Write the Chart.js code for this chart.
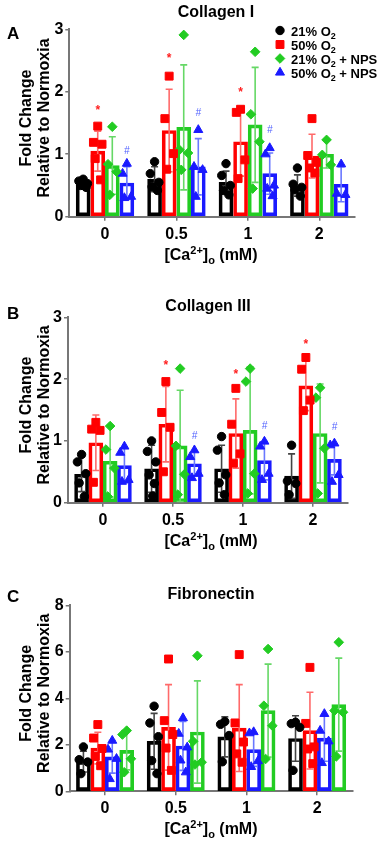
<!DOCTYPE html>
<html><head><meta charset="utf-8">
<script src="https://cdn.jsdelivr.net/npm/chart.js@4.4.0/dist/chart.umd.min.js"></script>
<style>
html,body{margin:0;padding:0;background:#fff;width:383px;height:841px;overflow:hidden}
canvas{position:absolute;left:0;display:block}
</style></head><body>
<canvas id="cA" width="383" height="270" style="top:0px"></canvas>
<canvas id="cB" width="383" height="282" style="top:278px"></canvas>
<canvas id="cC" width="383" height="279" style="top:562px"></canvas>
<script>
// ---------- data ----------
const categories = ['0', '0.5', '1', '2'];
const seriesLabels = ['21% O2', '50% O2', '21% O2 + NPS', '50% O2 + NPS'];

// Panel A: Collagen I
const colI_21_mean = [0.53, 0.60, 0.55, 0.50];
const colI_50_mean = [1.05, 1.38, 1.20, 0.97];
const colI_21nps_mean = [0.82, 1.43, 1.47, 1.00];
const colI_50nps_mean = [0.54, 0.80, 0.69, 0.52];
const colI_21_sd = [0.06, 0.20, 0.18, 0.17];
const colI_50_sd = [0.32, 0.66, 0.55, 0.35];
const colI_21nps_sd = [0.46, 1.00, 0.92, 0.22];
const colI_50nps_sd = [0.26, 0.45, 0.33, 0.28];
const colI_21_pts = [[0.60,0.57,0.53,0.50,0.47],[0.88,0.69,0.55,0.48,0.42],[0.85,0.66,0.50,0.42,0.35],[0.78,0.52,0.47,0.43,0.33]];
const colI_50_pts = [[1.45,1.19,1.16,0.93,0.59],[2.25,1.57,1.01,0.76],[1.72,1.67,0.91,0.61],[1.57,0.98,0.87,0.78,0.70]];
const colI_21nps_pts = [[1.44,0.84,0.72,0.35],[2.91,1.07,1.02,0.75],[2.64,1.64,1.20,0.45],[1.23,0.99,0.83]];
const colI_50nps_pts = [[0.85,0.69,0.32,0.30],[1.39,0.80,0.75,0.32],[1.10,1.00,0.50,0.45,0.33],[0.84,0.37,0.35]];
const colI_marks = [
  {series:1, cat:0, y:1.75, t:'*'}, {series:1, cat:1, y:2.57, t:'*'}, {series:1, cat:2, y:2.04, t:'*'},
  {series:3, cat:0, y:1.05, t:'#'}, {series:3, cat:1, y:1.65, t:'#'}, {series:3, cat:2, y:1.39, t:'#'}
];

// Panel B: Collagen III
const colIII_21_mean = [0.46, 0.55, 0.55, 0.43];
const colIII_50_mean = [0.97, 1.27, 1.12, 1.89];
const colIII_21nps_mean = [0.67, 0.92, 1.17, 1.12];
const colIII_50nps_mean = [0.60, 0.63, 0.68, 0.70];
const colIII_21_sd = [0.28, 0.38, 0.38, 0.36];
const colIII_50_sd = [0.45, 0.61, 0.56, 0.40];
const colIII_21nps_sd = [0.58, 0.90, 1.03, 0.80];
const colIII_50nps_sd = [0.28, 0.20, 0.31, 0.25];
const colIII_21_pts = [[0.78,0.66,0.47,0.32,0.10],[1.00,0.83,0.66,0.45,0.31,0.11],[1.07,0.85,0.45,0.32,0.13],[0.93,0.35,0.31,0.13]];
const colIII_50_pts = [[1.30,1.19,1.17,0.33],[1.96,1.46,1.22,0.50],[1.85,1.27,0.79,0.64],[2.35,2.16,1.66,1.49]];
const colIII_21nps_pts = [[1.24,0.86,0.56,0.10],[2.17,0.92,0.46,0.13],[2.17,1.96,0.47,0.15],[1.86,1.70,0.88,0.15]];
const colIII_50nps_pts = [[0.91,0.81,0.37,0.34],[0.85,0.74,0.47,0.40],[0.99,0.91,0.47,0.37],[0.96,0.93,0.45,0.34]];
const colIII_marks = [
  {series:1, cat:1, y:2.26, t:'*'}, {series:1, cat:2, y:2.12, t:'*'}, {series:1, cat:3, y:2.61, t:'*'},
  {series:3, cat:1, y:1.08, t:'#'}, {series:3, cat:2, y:1.23, t:'#'}, {series:3, cat:3, y:1.22, t:'#'}
];

// Panel C: Fibronectin (order: 21%, 50%, 50%+NPS, 21%+NPS)
const fib_21_mean = [1.28, 2.15, 2.34, 2.27];
const fib_50_mean = [1.86, 2.75, 2.72, 2.61];
const fib_50nps_mean = [1.48, 1.95, 1.79, 2.29];
const fib_21nps_mean = [1.76, 2.55, 3.47, 3.73];
const fib_21_sd = [0.45, 1.20, 0.86, 0.98];
const fib_50_sd = [0.68, 1.84, 1.87, 1.65];
const fib_50nps_sd = [0.70, 1.05, 0.72, 1.00];
const fib_21nps_sd = [0.84, 2.20, 2.00, 2.00];
const fib_21_pts = [[1.91,1.36,1.26,0.76],[3.66,2.94,2.35,1.32,0.76],[3.00,2.88,2.40,1.27],[2.97,2.91,2.75,0.90]];
const fib_50_pts = [[2.87,2.29,1.84,1.50,1.10],[5.69,3.04,2.44,1.86,0.90],[5.88,2.94,2.12,1.61,1.25],[5.33,2.92,1.91,1.82,1.19]];
const fib_50nps_pts = [[2.18,1.80,1.40,0.53],[3.15,2.48,1.89,1.33,0.82],[2.55,2.50,1.30,1.05],[3.33,2.61,2.15,1.22]];
const fib_21nps_pts = [[2.61,2.44,1.40,0.82],[5.83,2.15,1.25,1.15],[6.12,3.68,2.82,1.39],[6.41,3.47,3.40,1.50]];
const fib_marks = [];

// ---------- styles ----------
const FONT = '"Liberation Sans", Arial, Helvetica, sans-serif';
const styles = {
  o21:    {color:'#000000', err:'#444444', shape:'circle',   r:4.2},
  o50:    {color:'#ff0000', err:'#ff6a6a', shape:'rect',     r:5.6},
  o21nps: {color:'#22cc22', err:'#66d866', shape:'rectRot',  r:4.8},
  o50nps: {color:'#1a1aff', err:'#6a78ff', shape:'triangle', r:5.2}
};
const seriesOffset = [-0.306, -0.102, 0.102, 0.306];
const jitter = [0, -0.06, 0.06, -0.035, 0.04, 0.015];

const panels = [
  {id:'cA', title:'Collagen I', letter:'A', H:270, yMax:3, yStep:1,
   area:{top:29.3, bottom:216.7, left:69.3, right:355}, titleX:216, titleY:17, letterY:39, legend:true,
   marks: colI_marks,
   series:[
     {key:'o21', mean:colI_21_mean, sd:colI_21_sd, pts:colI_21_pts},
     {key:'o50', mean:colI_50_mean, sd:colI_50_sd, pts:colI_50_pts},
     {key:'o21nps', mean:colI_21nps_mean, sd:colI_21nps_sd, pts:colI_21nps_pts},
     {key:'o50nps', mean:colI_50nps_mean, sd:colI_50nps_sd, pts:colI_50nps_pts}]},
  {id:'cB', title:'Collagen III', letter:'B', H:282, yMax:3, yStep:1,
   area:{top:39.3, bottom:224.7, left:68, right:348}, titleX:208, titleY:33, letterY:41, legend:false,
   marks: colIII_marks,
   series:[
     {key:'o21', mean:colIII_21_mean, sd:colIII_21_sd, pts:colIII_21_pts},
     {key:'o50', mean:colIII_50_mean, sd:colIII_50_sd, pts:colIII_50_pts},
     {key:'o21nps', mean:colIII_21nps_mean, sd:colIII_21nps_sd, pts:colIII_21nps_pts},
     {key:'o50nps', mean:colIII_50nps_mean, sd:colIII_50nps_sd, pts:colIII_50nps_pts}]},
  {id:'cC', title:'Fibronectin', letter:'C', H:279, yMax:8, yStep:2,
   area:{top:43.3, bottom:229.3, left:69.7, right:352.5}, titleX:211, titleY:37, letterY:40, legend:false,
   marks: fib_marks,
   series:[
     {key:'o21', mean:fib_21_mean, sd:fib_21_sd, pts:fib_21_pts},
     {key:'o50', mean:fib_50_mean, sd:fib_50_sd, pts:fib_50_pts},
     {key:'o50nps', mean:fib_50nps_mean, sd:fib_50nps_sd, pts:fib_50nps_pts},
     {key:'o21nps', mean:fib_21nps_mean, sd:fib_21nps_sd, pts:fib_21nps_pts}]}
];

// ---------- helpers ----------
function drawRuns(ctx, runs, x, y, align) {
  let total = 0;
  runs.forEach(r => { ctx.font = 'bold ' + r.size + 'px ' + FONT; r.w = ctx.measureText(r.t).width; total += r.w; });
  let cx = align === 'center' ? x - total / 2 : x;
  ctx.textAlign = 'left'; ctx.textBaseline = 'alphabetic';
  runs.forEach(r => { ctx.font = 'bold ' + r.size + 'px ' + FONT; ctx.fillText(r.t, cx, y + r.dy); cx += r.w; });
}
function subRuns(label, size) {
  const i = label.indexOf('O2');
  return [{t: label.slice(0, i + 1), size: size, dy: 0}, {t: '2', size: Math.round(size * 0.7), dy: 3}, {t: label.slice(i + 2), size: size, dy: 0}];
}

const decorPlugin = {
  id: 'decor',
  afterDatasetDraw(chart, args) {
    const meta = args.meta;
    if (meta.type !== 'bar') return;
    const ds = chart.data.datasets[args.index];
    const ys = chart.scales.y, ctx = chart.ctx;
    ctx.save();
    ctx.strokeStyle = ds.errColor; ctx.lineWidth = 1.6;
    meta.data.forEach((bar, i) => {
      const m = ds.data[i].y, s = ds.sd[i];
      const yt = ys.getPixelForValue(m + s), yb = ys.getPixelForValue(Math.max(m - s, 0));
      ctx.beginPath();
      ctx.moveTo(bar.x, yt); ctx.lineTo(bar.x, yb);
      ctx.moveTo(bar.x - 3.5, yt); ctx.lineTo(bar.x + 3.5, yt);
      ctx.moveTo(bar.x - 3.5, yb); ctx.lineTo(bar.x + 3.5, yb);
      ctx.stroke();
    });
    ctx.restore();
  },
  afterDraw(chart) {
    const p = chart.options.plugins.decor.panel;
    const ctx = chart.ctx, ca = chart.chartArea, ys = chart.scales.y;
    ctx.save();
    ctx.fillStyle = '#000';
    ctx.font = 'bold 16px ' + FONT; ctx.textAlign = 'center'; ctx.textBaseline = 'alphabetic';
    ctx.fillText(p.title, p.titleX, p.titleY);
    ctx.font = 'bold 17px ' + FONT; ctx.textAlign = 'left';
    ctx.fillText(p.letter, 7, p.letterY);
    const yc = (ca.top + ca.bottom) / 2 - 5;
    ctx.save();
    ctx.translate(0, yc); ctx.rotate(-Math.PI / 2);
    ctx.font = 'bold 16px ' + FONT; ctx.textAlign = 'center'; ctx.textBaseline = 'middle';
    ctx.fillText('Fold Change', 0, 27);
    ctx.fillText('Relative to Normoxia', 0, 45);
    ctx.restore();
    drawRuns(ctx, [{t:'[Ca', size:16, dy:0}, {t:'2+', size:11, dy:-6}, {t:']', size:16, dy:0}, {t:'o', size:11, dy:4}, {t:' (mM)', size:16, dy:0}], 211, ca.bottom + 43, 'center');
    p.marks.forEach(mk => {
      const bar = chart.getDatasetMeta(mk.series).data[mk.cat];
      const y = ys.getPixelForValue(mk.y);
      ctx.textAlign = 'center'; ctx.textBaseline = 'middle';
      if (mk.t === '*') {
        ctx.fillStyle = '#ff2020'; ctx.font = 'bold 12px ' + FONT;
        ctx.fillText('*', bar.x, y + 3);
      } else {
        ctx.fillStyle = '#5060ff'; ctx.font = 'italic 10px ' + FONT;
        ctx.fillText('#', bar.x, y);
      }
    });
    if (p.legend) {
      const keys = ['o21', 'o50', 'o21nps', 'o50nps'];
      const rowsY = [30.5, 44.5, 58.5, 72.5];
      keys.forEach((k, i) => {
        const st = styles[k];
        ctx.fillStyle = st.color; ctx.strokeStyle = st.color;
        Chart.helpers.drawPoint(ctx, {pointStyle: st.shape, radius: st.r, rotation: 0, borderWidth: 1}, 280, rowsY[i]);
        ctx.fillStyle = '#000';
        drawRuns(ctx, subRuns(seriesLabels[i], 13), 291, rowsY[i] + 5, 'left');
      });
    }
    ctx.restore();
  }
};

function buildPanel(p) {
  const datasets = [];
  p.series.forEach((s, si) => {
    const st = styles[s.key];
    datasets.push({
      type: 'bar', order: 2,
      data: categories.map((c, i) => ({x: i + seriesOffset[si], y: s.mean[i]})),
      sd: s.sd, errColor: st.err,
      backgroundColor: 'rgba(255,255,255,0)', borderColor: st.color, borderWidth: 3,
      borderSkipped: false, barThickness: 14, grouped: false
    });
  });
  p.series.forEach((s, si) => {
    const st = styles[s.key];
    const pts = [];
    s.pts.forEach((arr, i) => arr.forEach((v, k) => pts.push({x: i + seriesOffset[si] + jitter[k % jitter.length], y: v})));
    datasets.push({
      type: 'scatter', order: 1, data: pts,
      pointStyle: st.shape, pointRadius: st.r, pointBorderWidth: 1,
      backgroundColor: st.color, borderColor: st.color
    });
  });
  const H = p.H, a = p.area;
  new Chart(document.getElementById(p.id), {
    type: 'bar',
    data: {datasets},
    options: {
      responsive: false, animation: false, events: [],
      layout: {padding: {top: a.top, left: 0, right: 383 - a.right, bottom: 0}},
      plugins: {legend: {display: false}, tooltip: {enabled: false}, decor: {panel: p}},
      scales: {
        x: {
          type: 'linear', min: -0.5, max: 3.5, offset: false,
          afterBuildTicks: sc => { sc.ticks = categories.map((c, i) => ({value: i})); },
          ticks: {callback: (v, idx) => categories[idx], color: '#000', font: {family: FONT, size: 16, weight: 'bold'}, padding: 4, maxRotation: 0, autoSkip: false},
          grid: {drawOnChartArea: false, drawTicks: true, tickLength: 4, color: '#777', lineWidth: 1.5, offset: false},
          border: {display: true, color: '#777', width: 2},
          afterFit: sc => { sc.height = H - a.bottom; }
        },
        y: {
          min: 0, max: p.yMax,
          ticks: {stepSize: p.yStep, color: '#000', font: {family: FONT, size: 16, weight: 'bold'}, padding: 2},
          grid: {drawOnChartArea: false, drawTicks: true, tickLength: 4, color: '#777', lineWidth: 1.5},
          border: {display: true, color: '#777', width: 2},
          afterFit: sc => { sc.width = a.left; }
        }
      }
    },
    plugins: [decorPlugin]
  });
}
panels.forEach(buildPanel);
</script>
</body></html>
